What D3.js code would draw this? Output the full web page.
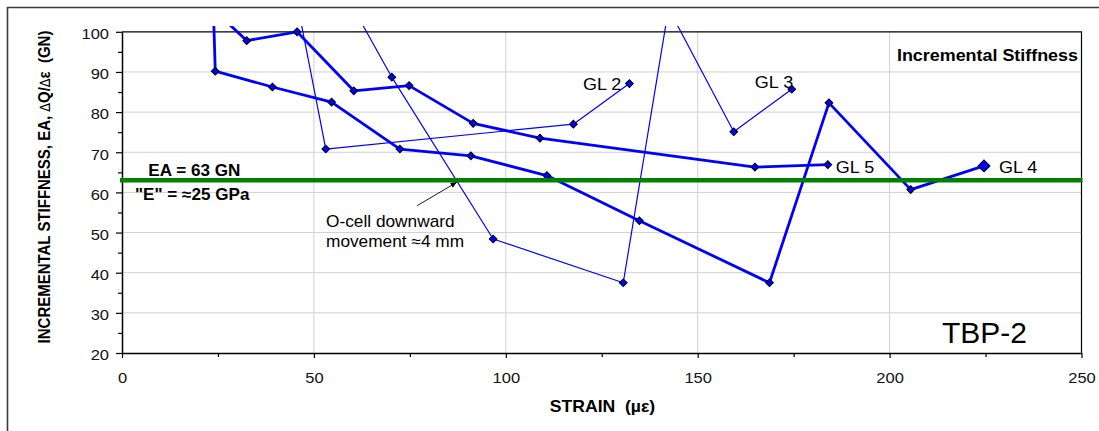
<!DOCTYPE html>
<html><head><meta charset="utf-8">
<script src="https://cdn.jsdelivr.net/npm/d3@7"></script>
<style>html,body{margin:0;padding:0;background:#fff}svg{display:block}text{white-space:pre}</style>
</head><body><svg id="c" width="1099" height="431"></svg>
<script>
// ---- data ----
const xTicks = [0, 50, 100, 150, 200, 250];
const xMinorTicks = [25, 75, 125, 175, 225];
const yTicks = [20, 30, 40, 50, 60, 70, 80, 90, 100];
const yMinorTicks = [25, 35, 45, 55, 65, 75, 85, 95];
const eaValue = 63;

const gl2Strain = [45.8, 53.1, 117.6, 132.2];
const gl2Stiff  = [106.5, 70.8, 77.0, 87.1];
const gl3Strain = [59.8, 70.3, 96.7, 130.6, 142.4, 159.4, 174.5];
const gl3Stiff  = [106.7, 88.7, 48.4, 37.5, 105.8, 75.1, 85.7];
const gl4Strain = [23.8, 24.3, 39.2, 54.6, 72.4, 90.9, 110.7, 134.8, 168.7, 184.2, 205.5, 224.6];
const gl4Stiff  = [106, 90.2, 86.25, 82.5, 70.8, 69.1, 64.2, 52.95, 37.5, 82.3, 60.7, 66.6];
const gl5Strain = [25.0, 32.5, 45.6, 60.4, 74.8, 91.5, 108.9, 164.9, 183.9];
const gl5Stiff  = [104.5, 97.8, 100.0, 85.3, 86.6, 77.2, 73.5, 66.3, 66.9];
const seriesNames = ["GL 2", "GL 3", "GL 4", "GL 5"];

// ---- setup ----
const W = 1099, H = 431;
const FONT = "'Liberation Sans', Arial, sans-serif";
const svg = d3.select("#c");
svg.append("rect").attr("width", W).attr("height", H).attr("fill", "#fff");

const x = d3.scaleLinear().domain([0, 250]).range([122, 1081.5]);
const y = d3.scaleLinear().domain([20, 100]).range([353, 31.8]);

function label(txt, px, py, o) {
  return svg.append("text")
    .attr("transform", `translate(${px},${py}) scale(${o.sx || 1},1)`)
    .attr("text-anchor", o.anchor || "start")
    .style("font-family", FONT)
    .style("font-size", o.size + "px")
    .style("font-weight", o.bold ? "bold" : "normal")
    .attr("fill", "#000")
    .text(txt);
}

// outer frame (top & left visible)
svg.append("path").attr("d", "M7.5,431 V7.5 H1099")
  .attr("fill", "none").attr("stroke", "#3a3a3a").attr("stroke-width", 1.6);

// grid
const grid = svg.append("g").attr("stroke", "#d0d0d0").attr("stroke-width", 1);
grid.selectAll(".h").data(yTicks.filter(v => v > 20 && v < 100)).join("line")
  .attr("x1", x(0)).attr("x2", x(250)).attr("y1", d => y(d)).attr("y2", d => y(d));
grid.selectAll(".v").data(xTicks.filter(v => v > 0 && v < 250)).join("line")
  .attr("y1", y(20)).attr("y2", y(100)).attr("x1", d => x(d)).attr("x2", d => x(d));

// plot border top/right
svg.append("path").attr("d", `M${x(0)},${y(100)} H${x(250)} V${y(20)}`)
  .attr("fill", "none").attr("stroke", "#000").attr("stroke-width", 1.2);

// axes
const gx = svg.append("g").attr("transform", `translate(0,${y(20)})`)
  .call(d3.axisBottom(x).tickValues(xTicks).tickSize(5).tickSizeOuter(0).tickFormat(d3.format("d")));
const gxm = svg.append("g").attr("transform", `translate(0,${y(20)})`)
  .call(d3.axisBottom(x).tickValues(xMinorTicks).tickSize(4).tickSizeOuter(0).tickFormat(""));
gxm.select(".domain").remove();
const gy = svg.append("g").attr("transform", `translate(${x(0)},0)`)
  .call(d3.axisLeft(y).tickValues(yTicks).tickSize(6).tickSizeOuter(0).tickFormat(d3.format("d")));
const gym = svg.append("g").attr("transform", `translate(${x(0)},0)`)
  .call(d3.axisLeft(y).tickValues(yMinorTicks).tickSize(4).tickSizeOuter(0).tickFormat(""));
gym.select(".domain").remove();
[gx, gxm, gy, gym].forEach(g => {
  g.attr("font-family", FONT).attr("font-size", 15);
  g.selectAll("line").attr("stroke", "#000").attr("stroke-width", 1.2);
  g.select(".domain").attr("stroke", "#000").attr("stroke-width", 1.5);
});
gx.selectAll("text").attr("y", 30.5).attr("dy", 0).attr("fill", "#111").attr("transform", "scale(1.1,1)");
gy.selectAll("text").attr("x", -13 / 1.1).attr("dy", "0.45em").attr("fill", "#111").attr("transform", "scale(1.1,1)");

// clip
svg.append("defs").append("clipPath").attr("id", "clip")
  .append("rect").attr("x", x(0)).attr("y", 26).attr("width", x(250) - x(0) + 1).attr("height", y(20) - 26);
svg.select("defs").append("marker").attr("id", "arr")
  .attr("viewBox", "0 0 10 10").attr("refX", 10).attr("refY", 5)
  .attr("markerWidth", 7).attr("markerHeight", 6).attr("markerUnits", "userSpaceOnUse")
  .attr("orient", "auto")
  .append("path").attr("d", "M0,0.5 L10,5 L0,9.5 z").attr("fill", "#000");

// series
const seriesData = [
  { name: seriesNames[0], pts: d3.zip(gl2Strain, gl2Stiff) },
  { name: seriesNames[1], pts: d3.zip(gl3Strain, gl3Stiff) },
  { name: seriesNames[2], pts: d3.zip(gl4Strain, gl4Stiff) },
  { name: seriesNames[3], pts: d3.zip(gl5Strain, gl5Stiff) }
];
const thick = { "GL 2": false, "GL 3": false, "GL 4": true, "GL 5": true };
const line = d3.line().x(d => x(d[0])).y(d => y(d[1]));
const plot = svg.append("g").attr("clip-path", "url(#clip)");
plot.selectAll("path.s").data(seriesData).join("path").attr("class", "s")
  .attr("d", d => line(d.pts)).attr("fill", "none").attr("stroke", "#0000ff")
  .attr("stroke-width", d => thick[d.name] ? 2.8 : 1.2).attr("stroke-linejoin", "round");

// EA reference line
svg.append("line").attr("x1", x(0) - 2).attr("x2", x(250) + 1)
  .attr("y1", y(eaValue)).attr("y2", y(eaValue))
  .attr("stroke", "#008000").attr("stroke-width", 4.5);

// markers
const sym = d3.symbol().type(d3.symbolSquare);
seriesData.forEach(s => {
  plot.selectAll(null).data(s.pts).join("path")
    .attr("transform", d => `translate(${x(d[0])},${y(d[1])}) rotate(45)`)
    .attr("d", (d, i) => sym.size(s.name === "GL 4" && i === s.pts.length - 1 ? 72 : 30)())
    .attr("fill", "#0000ff").attr("stroke", "#000").attr("stroke-width", 1);
});

// series labels
const last = s => s.pts[s.pts.length - 1];
const lab = {
  "GL 2": { dx: -8, dy: 6.5, anchor: "end" },
  "GL 3": { dx: 1.5, dy: -1, anchor: "end" },
  "GL 4": { dx: 15, dy: 7.5, anchor: "start" },
  "GL 5": { dx: 8, dy: 8.5, anchor: "start" }
};
seriesData.forEach(s => {
  const p = last(s), o = lab[s.name];
  label(s.name, x(p[0]) + o.dx, y(p[1]) + o.dy, { size: 17, sx: 1.06, anchor: o.anchor });
});

// annotations
label("Incremental Stiffness", 1078, 61, { size: 16, bold: true, sx: 1.12, anchor: "end" });
label("EA = 63 GN", 148.3, 176, { size: 16, bold: true, sx: 1.07 });
label("\"E\" = \u224825 GPa", 135, 199.5, { size: 16, bold: true, sx: 1.07 });
label("O-cell downward", 326, 227.3, { size: 16, sx: 1.08 });
label("movement \u22484 mm", 326, 247.3, { size: 16, sx: 1.08 });
label("TBP-2", 942, 342.7, { size: 30 });
svg.append("line")
  .attr("x1", x(76.9)).attr("y1", y(56.7)).attr("x2", x(87.2)).attr("y2", y(62.5))
  .attr("stroke", "#000").attr("stroke-width", 0.9).attr("marker-end", "url(#arr)");

// axis titles
label("STRAIN  (\u00b5\u03b5)", 602.5, 412.3, { size: 16, bold: true, sx: 1.1, anchor: "middle" });
const yt = svg.append("text")
  .attr("transform", "translate(50,187) rotate(-90) scale(1,1.1)")
  .attr("text-anchor", "middle")
  .style("font-family", FONT).style("font-size", "15px").style("font-weight", "bold");
yt.append("tspan").text("INCREMENTAL STIFFNESS, EA, ");
yt.append("tspan").style("font-weight", "normal").style("font-family", "'DejaVu Sans', sans-serif").style("font-size", "13px").text("\u2206");
yt.append("tspan").text("Q/");
yt.append("tspan").style("font-weight", "normal").style("font-family", "'DejaVu Sans', sans-serif").style("font-size", "13px").text("\u2206");
yt.append("tspan").text("\u03b5  (GN)");
</script></body></html>
